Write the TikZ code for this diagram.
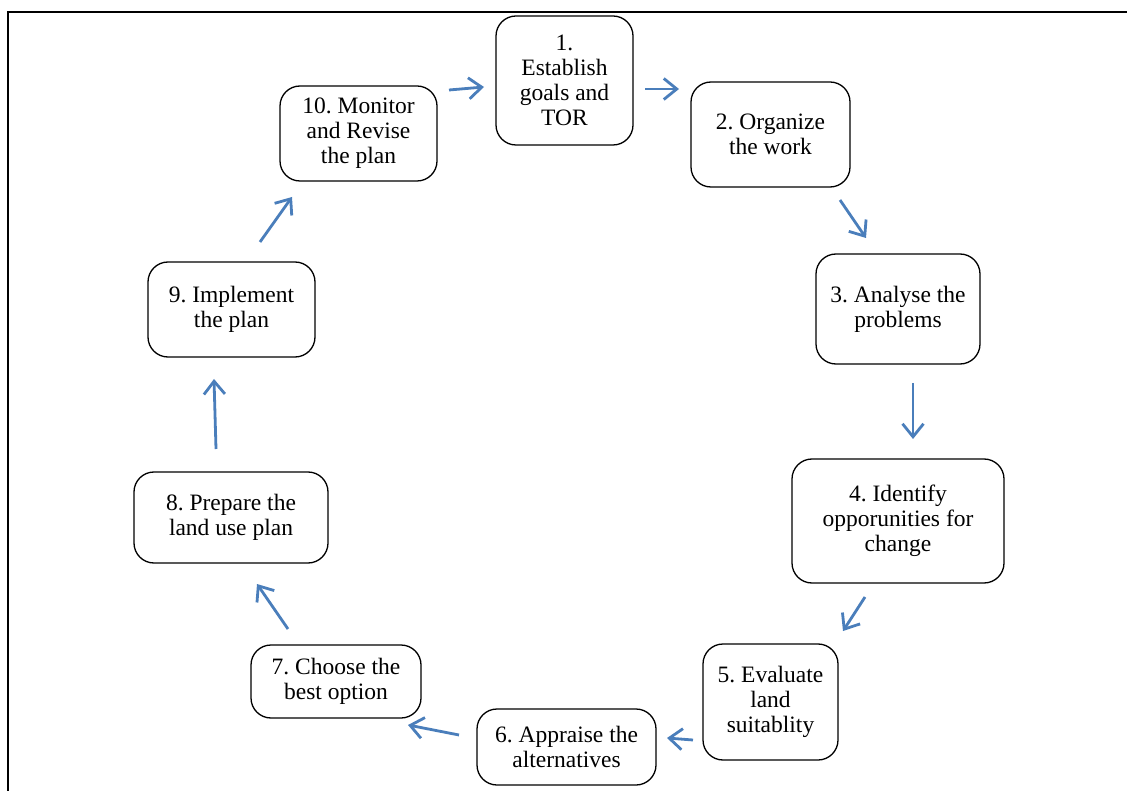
\documentclass[tikz,border=0pt]{standalone}
\usepackage{fontspec}
\setmainfont{Liberation Serif}
\usetikzlibrary{arrows.meta}
\definecolor{arrowblue}{HTML}{4A7EBB}
\frenchspacing
\tikzset{
  stepbox/.style={draw=black, line width=1.3pt, rounded corners=20pt, align=center,
    inner sep=0pt, font=\fontsize{23.5}{25}\selectfont\frenchspacing},
  flow/.style={draw=arrowblue, line width=2.8pt,
    -{Straight Barb[length=13pt,width=21pt,line width=2.8pt]}},
}
\begin{document}
\begin{tikzpicture}[x=1pt,y=-1pt]
\useasboundingbox (0,0) rectangle (1127,791);
\draw[line width=1.6pt] (8,795) -- (8,12) -- (1130,12);

\node[stepbox, minimum width=137pt, minimum height=129pt] (n1) at (564.5,80.5) {1.\\Establish\\goals and\\TOR};
\node[stepbox, minimum width=159pt, minimum height=105pt] (n2) at (770.5,134.5) {2. Organize\\the work};
\node[stepbox, minimum width=164pt, minimum height=110pt] (n3) at (898,309) {3. Analyse the\\problems};
\node[stepbox, minimum width=212pt, minimum height=124pt] (n4) at (898,521) {4. Identify\\opporunities for\\change};
\node[stepbox, minimum width=135pt, minimum height=116pt] (n5) at (770.5,702) {5. Evaluate\\land\\suitablity};
\node[stepbox, minimum width=179pt, minimum height=76pt] (n6) at (566.5,747) {6. Appraise the\\alternatives};
\node[stepbox, minimum width=170pt, minimum height=73pt] (n7) at (336,681.5) {7. Choose the\\best option};
\node[stepbox, minimum width=194pt, minimum height=91pt] (n8) at (231,517.5) {8. Prepare the\\land use plan};
\node[stepbox, minimum width=167pt, minimum height=95pt] (n9) at (231.5,309.5) {9. Implement\\the plan};
\node[stepbox, minimum width=157pt, minimum height=95pt] (n10) at (358.5,133.5) {10. Monitor\\and Revise\\the plan};

\coordinate (s1) at (449,90);  \coordinate (e1) at (484,87);
\coordinate (s2) at (645,89);  \coordinate (e2) at (679,89);
\coordinate (s3) at (840,200); \coordinate (e3) at (866,238);
\coordinate (s4) at (913,383); \coordinate (e4) at (913,439);
\coordinate (s5) at (865,597); \coordinate (e5) at (843,631);
\coordinate (s6) at (693,740); \coordinate (e6) at (667,738);
\coordinate (s7) at (459,735); \coordinate (e7) at (408,725);
\coordinate (s8) at (288,629); \coordinate (e8) at (257,584);
\coordinate (s9) at (216,449); \coordinate (e9) at (214,379);
\coordinate (s10) at (260,242); \coordinate (e10) at (292,197);

\foreach \i in {1,...,10} {
  \draw[flow] (s\i) -- (e\i);
}
\end{tikzpicture}
\end{document}
